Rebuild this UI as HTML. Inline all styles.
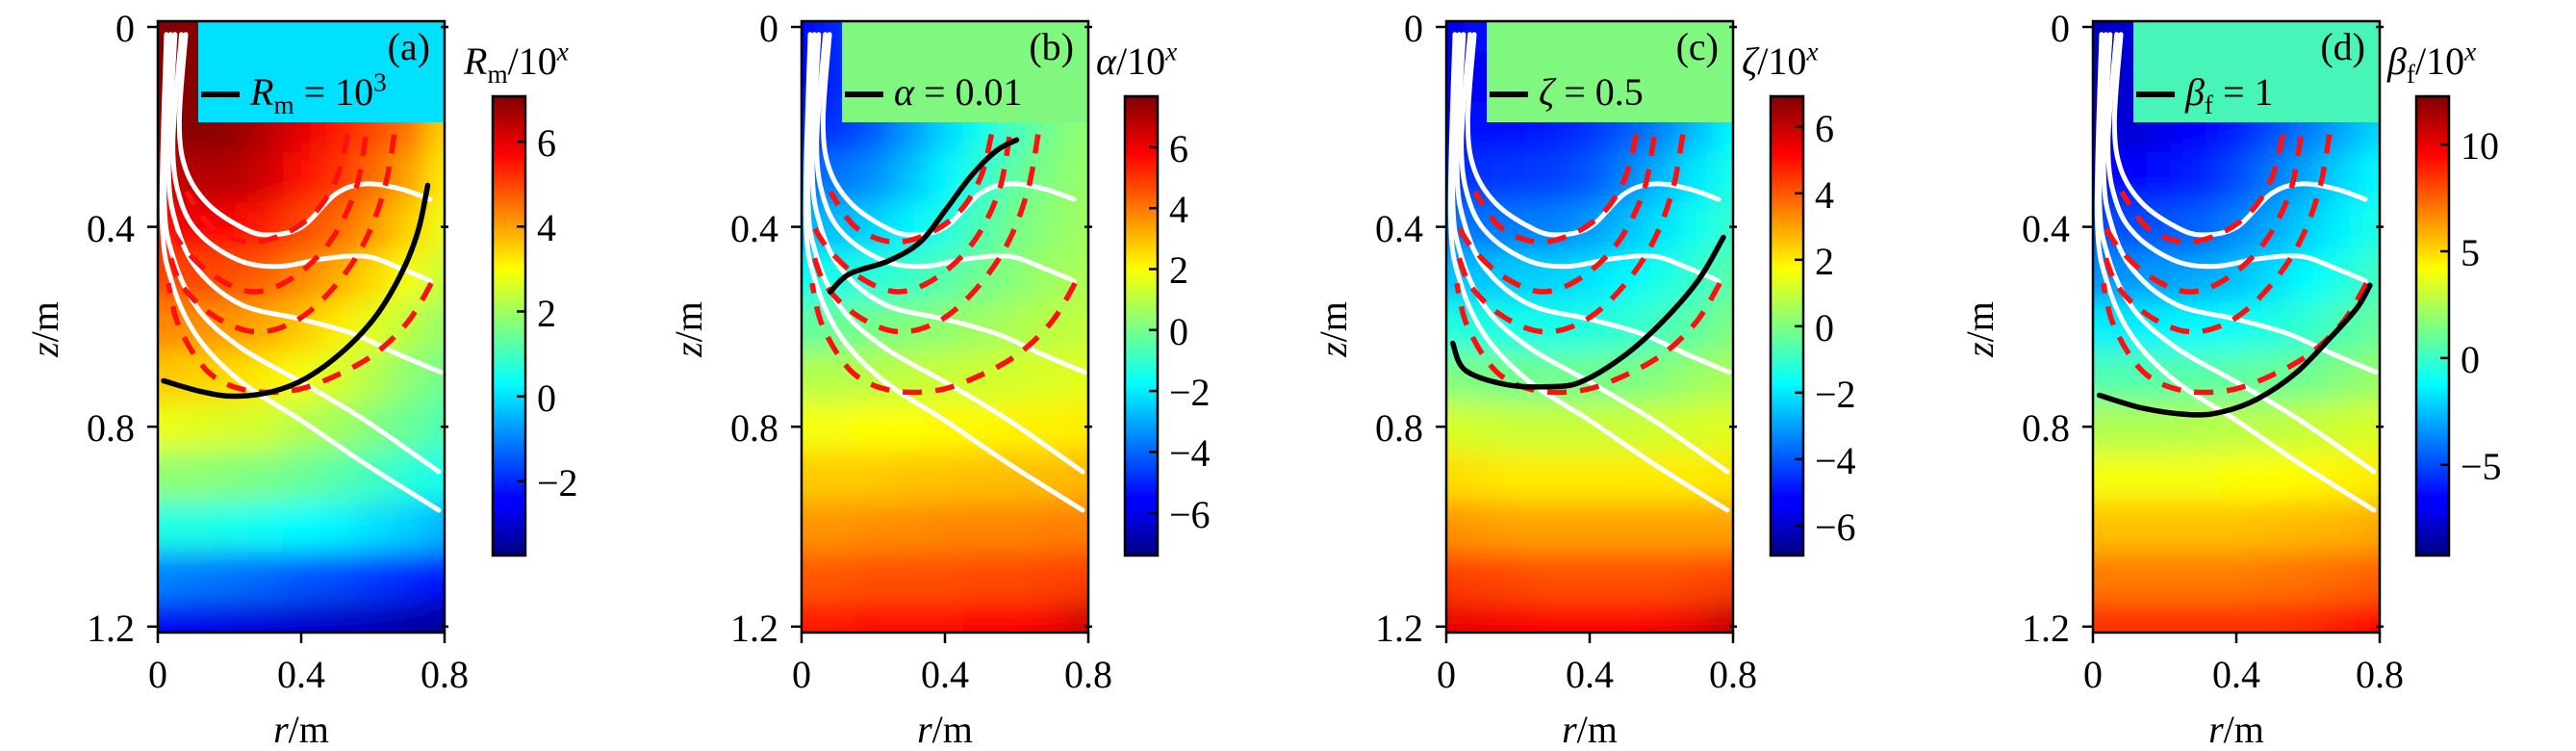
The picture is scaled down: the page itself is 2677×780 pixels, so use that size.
<!DOCTYPE html>
<html><head><meta charset="utf-8">
<style>
html,body{margin:0;padding:0;background:#fff;}
#wrap{position:relative;width:2677px;height:780px;overflow:hidden;background:#fff;font-family:"Liberation Serif",serif;color:#000;}
.t{position:absolute;white-space:nowrap;font-size:40px;line-height:1;}
.it{font-style:italic;}
sub,sup{font-size:68%;line-height:0;}
</style></head>
<body>
<div id="wrap">
<svg id="svg" width="2677" height="780" style="position:absolute;left:0;top:0"></svg>
</div>
<script>
// ---------- data ----------
const rTicks = [0, 0.4, 0.8];
const zTicks = [0, 0.4, 0.8, 1.2];
const rCenters = [0,0.1,0.2,0.3,0.4,0.5,0.6,0.7,0.8];
const zCenters = [0,0.1,0.2,0.3,0.4,0.5,0.6,0.7,0.8,0.9,1.0,1.1,1.2];

const gridA = [
[7,7,7,7,7,7,7,7,7],
[7,7,7,7,6.5,6,5.5,5,4.5],
[6.8,7,6.9,6.5,6,5.5,5,4.5,3.5],
[6.2,6.5,6.5,6.2,5.6,5.2,4.6,4,3.2],
[5.6,5.8,5.7,5.4,5,4.6,4.1,3.5,2.8],
[5,5,4.9,4.7,4.3,3.9,3.4,2.9,2.4],
[4.3,4.2,4.1,3.9,3.6,3.2,2.7,2.3,1.9],
[3.6,3.5,3.4,3.2,2.9,2.6,2.2,1.8,1.5],
[2.8,2.7,2.6,2.5,2.2,2,1.7,1.4,1.1],
[1.8,1.8,1.7,1.6,1.4,1.2,1.0,0.7,0.5],
[0.6,0.6,0.5,0.4,0.3,0.2,0,-0.2,-0.5],
[-1,-1.1,-1.2,-1.3,-1.5,-1.6,-1.8,-2,-2.3],
[-2.5,-2.6,-2.7,-2.8,-2.9,-3,-3.1,-3.3,-3.5]];
const gridB = [
[-5.5,-5,-4,-2,0,0,0,0,0],
[-5.5,-5,-4.2,-3,-2,-1.2,-0.5,0,0.3],
[-5,-4.8,-4.2,-3.3,-2.4,-1.5,-0.7,0,0.4],
[-4,-3.8,-3.4,-2.7,-1.9,-1.1,-0.3,0.2,0.5],
[-2.8,-2.7,-2.4,-1.9,-1.3,-0.6,0,0.4,0.6],
[-1.5,-1.4,-1.2,-0.9,-0.5,-0.1,0.3,0.6,0.8],
[-0.3,-0.2,0,0.2,0.4,0.6,0.8,1,1.1],
[0.9,0.9,1,1.1,1.2,1.3,1.4,1.5,1.6],
[1.9,1.9,2,2,2.1,2.1,2.2,2.2,2.3],
[2.8,2.8,2.8,2.9,2.9,3,3,3,3.1],
[3.6,3.6,3.7,3.7,3.8,3.8,3.8,3.9,3.9],
[4.5,4.5,4.6,4.6,4.6,4.7,4.7,4.8,4.9],
[5.5,5.5,5.6,5.6,5.6,5.7,5.8,6,6.5]];
const gridC = [
[-5.5,-5,-5,-4,-3,-2,-1,-0.5,0],
[-5.5,-5.3,-5.2,-5,-4.8,-4.4,-3.8,-3.2,-2.5],
[-5.2,-5,-5,-4.8,-4.5,-4,-3.4,-2.6,-1.8],
[-4.6,-4.5,-4.4,-4.3,-4,-3.4,-2.7,-2,-1.4],
[-3.6,-3.6,-3.5,-3.4,-3.1,-2.6,-2.1,-1.5,-1],
[-2.5,-2.5,-2.4,-2.3,-2.1,-1.8,-1.4,-1,-0.5],
[-1.3,-1.3,-1.4,-1.4,-1.3,-1.1,-0.8,-0.4,0],
[0,-0.1,-0.2,-0.2,-0.2,-0.1,0.1,0.4,0.6],
[1.2,1.1,1,1,1,1,1.1,1.2,1.3],
[2.2,2.1,2,2,2,2,2,2,2.1],
[3.2,3.1,3,3,3,3,3,3,3],
[4.4,4.3,4.2,4.1,4.1,4.1,4.1,4.2,4.3],
[5.5,5.4,5.3,5.2,5.2,5.2,5.3,5.5,6]];
const gridD = [
[-8,-7.5,-6,-5,-3,-2,-1,0,0],
[-8,-7.5,-7,-6.5,-6,-5.5,-5,-4,-3],
[-7.5,-7.5,-7,-6.5,-6,-5,-4,-3,-2],
[-6.5,-6.5,-6.2,-5.8,-5,-4,-3,-2,-1.2],
[-5,-5,-4.8,-4.5,-3.8,-3,-2.2,-1.4,-0.6],
[-3.5,-3.4,-3.3,-3,-2.5,-1.9,-1.2,-0.6,0.2],
[-1.5,-1.5,-1.4,-1.2,-1,-0.6,-0.1,0.5,1],
[0.5,0.5,0.6,0.7,0.8,1,1.2,1.6,2],
[2.5,2.5,2.5,2.6,2.7,2.8,3,3.2,3.4],
[4,4,4,4,4.1,4.2,4.3,4.4,4.6],
[5.5,5.5,5.5,5.5,5.5,5.6,5.7,5.8,6],
[7,7,7,7,7,7.1,7.2,7.4,7.6],
[8.5,8.5,8.5,8.5,8.5,8.6,8.8,9.2,9.6]];

const cbTicksA = [6,4,2,0,-2];
const cbTicksB = [6,4,2,0,-2,-4,-6];
const cbTicksC = [6,4,2,0,-2,-4,-6];
const cbTicksD = [10,5,0,-5];
const rangeA = [-3.75, 7.07];
const rangeB = [-7.4, 7.67];
const rangeC = [-6.9, 6.92];
const rangeD = [-9.25, 12.26];

const stream1 = [[.078,.015],[.06,.19],[.078,.285],[.138,.353],[.234,.401],[.305,.416],[.40,.401],[.497,.334],[.58,.314],[.677,.324],[.76,.345]];
const stream2 = [[.066,.015],[.042,.237],[.066,.353],[.126,.421],[.234,.469],[.341,.479],[.461,.464],[.58,.459],[.677,.483],[.76,.508]];
const stream3 = [[.048,.015],[.03,.285],[.054,.401],[.114,.488],[.234,.556],[.401,.585],[.545,.614],[.665,.653],[.79,.691]];
const stream4 = [[.036,.015],[.018,.334],[.042,.459],[.114,.566],[.234,.643],[.401,.711],[.58,.788],[.784,.89]];
const stream5 = [[.024,.015],[.012,.382],[.042,.517],[.114,.624],[.234,.711],[.401,.788],[.58,.875],[.784,.967]];

const dash1 = [[.53,.215],[.50,.30],[.44,.37],[.35,.415],[.25,.43],[.15,.40],[.08,.33]];
const dash2 = [[.58,.22],[.55,.33],[.48,.43],[.38,.50],[.27,.53],[.16,.50],[.07,.44],[.02,.38]];
const dash3 = [[.66,.215],[.63,.33],[.57,.44],[.48,.53],[.38,.59],[.27,.61],[.16,.58],[.07,.52],[.03,.45]];
const dash4 = [[.763,.513],[.70,.588],[.611,.651],[.505,.695],[.38,.727],[.247,.727],[.14,.69],[.06,.601],[.029,.513]];

const blackA = [[.016,.708],[.123,.730],[.212,.739],[.318,.730],[.416,.702],[.523,.645],[.611,.576],[.683,.488],[.727,.406],[.753,.317]];
const blackB = [[.08,.53],[.134,.494],[.24,.469],[.33,.431],[.40,.368],[.472,.299],[.543,.248],[.6,.226]];
const blackC = [[.018,.633],[.053,.687],[.169,.716],[.284,.72],[.373,.711],[.489,.662],[.596,.595],[.702,.508],[.773,.421]];
const blackD = [[.018,.737],[.139,.763],[.273,.776],[.362,.77],[.46,.744],[.567,.692],[.665,.62],[.737,.562],[.773,.517]];

// ---------- layout ----------
const panels = [
 {id:'a', left:164, cb:512, grid:gridA, ticks:cbTicksA, range:rangeA, black:blackA, box:'#00e1ff',
  title:'<span class="it">R</span><sub>m</sub>/10<sup class="it">x</sup>',
  leg:'<span class="it">R</span><sub>m</sub> = 10<sup>3</sup>'},
 {id:'b', left:833, cb:1169, grid:gridB, ticks:cbTicksB, range:rangeB, black:blackB, box:'#80f880',
  title:'<span class="it">α</span>/10<sup class="it">x</sup>', leg:'<span class="it">α</span> = 0.01'},
 {id:'c', left:1503, cb:1840, grid:gridC, ticks:cbTicksC, range:rangeC, black:blackC, box:'#80f880',
  title:'<span class="it">ζ</span>/10<sup class="it">x</sup>', leg:'<span class="it">ζ</span> = 0.5'},
 {id:'d', left:2175, cb:2511, grid:gridD, ticks:cbTicksD, range:rangeD, black:blackD, box:'#48f5b8',
  title:'<span class="it">β</span><sub>f</sub>/10<sup class="it">x</sup>', leg:'<span class="it">β</span><sub>f</sub> = 1'}
];
const PW = 298, PT = 22, PB = 657, Z0 = 28, ZS = 519;
const CBT = 100, CBB = 577, CBW = 34;
const NS = 'http://www.w3.org/2000/svg';
const svg = document.getElementById('svg');
const wrap = document.getElementById('wrap');

function jet(t){
  t = Math.max(0, Math.min(1, t));
  const c = v => Math.round(255*Math.max(0, Math.min(1, v)));
  return 'rgb('+c(1.5-Math.abs(4*t-3))+','+c(1.5-Math.abs(4*t-2))+','+c(1.5-Math.abs(4*t-1))+')';
}
function el(tag, attrs, parent){
  const e = document.createElementNS(NS, tag);
  for (const k in attrs) e.setAttribute(k, attrs[k]);
  (parent || svg).appendChild(e);
  return e;
}
function text(html, x, y, anchor, extra){
  const d = document.createElement('div');
  d.className = 't';
  d.innerHTML = html;
  d.style.left = x + 'px';
  d.style.top = y + 'px';
  const tx = anchor === 'middle' ? '-50%' : anchor === 'end' ? '-100%' : '0';
  d.style.transform = 'translate(' + tx + ',-50%)' + (extra || '');
  wrap.appendChild(d);
  return d;
}
function smooth(pts){
  let d = 'M' + pts[0][0] + ',' + pts[0][1];
  for (let i = 0; i < pts.length - 1; i++){
    const p0 = pts[Math.max(0,i-1)], p1 = pts[i], p2 = pts[i+1], p3 = pts[Math.min(pts.length-1,i+2)];
    const c1 = [p1[0]+(p2[0]-p0[0])/6, p1[1]+(p2[1]-p0[1])/6];
    const c2 = [p2[0]-(p3[0]-p1[0])/6, p2[1]-(p3[1]-p1[1])/6];
    d += 'C' + c1[0] + ',' + c1[1] + ' ' + c2[0] + ',' + c2[1] + ' ' + p2[0] + ',' + p2[1];
  }
  return d;
}

const defs = el('defs', {});
const blur = el('filter', {id:'blur', x:'0', y:'0', width:'1', height:'1'}, defs);
el('feGaussianBlur', {stdDeviation:'14', edgeMode:'duplicate'}, blur);
const cg = el('linearGradient', {id:'jetgrad', x1:'0', y1:'1', x2:'0', y2:'0'}, defs);
[[0,'#000080'],[0.11,'#0000ff'],[0.125,'#0000ff'],[0.375,'#00ffff'],[0.625,'#ffff00'],[0.875,'#ff0000'],[1,'#800000']].forEach(s=>{
  el('stop', {offset:s[0], 'stop-color':s[1]}, cg);
});

panels.forEach(p => {
  const X = r => p.left + r / 0.8 * PW;
  const Y = z => Z0 + z * ZS;
  const norm = v => (v - p.range[0]) / (p.range[1] - p.range[0]);
  const g = el('g', {});
  
  
  const clip = el('clipPath', {id:'clip' + p.id}, defs);
  el('rect', {x:p.left, y:PT, width:PW, height:PB-PT}, clip);
  const hm = el('g', {'clip-path':'url(#clip' + p.id + ')'}, g);
  
  
  const cells = el('g', {filter:'url(#blur)'}, hm);
  const cw = 0.1 / 0.8 * PW, ch = 0.1 * ZS;
  p.grid.forEach((row, i) => {
    row.forEach((v, j) => {
      const x0 = X(rCenters[j]) - cw/2, y0 = Y(zCenters[i]) - ch/2;
      const rc = el('rect', {x:x0-(j===0?40:0), y:y0-(i===0?40:0), width:cw+1+(j===0||j===row.length-1?40:0), height:ch+1+(i===0||i===p.grid.length-1?40:0), fill:jet(norm(v))}, cells);
      
      
    });
  });
  [stream1, stream2, stream3, stream4, stream5].forEach((s, k) => {
    const path = el('path', {d:smooth(s.map(q=>[X(q[0]),Y(q[1])])), fill:'none', stroke:'#fff', 'stroke-width':'5', 'stroke-linecap':'round'}, hm);
    
    
  });
  [dash1, dash2, dash3, dash4].forEach((s, k) => {
    const path = el('path', {d:smooth(s.map(q=>[X(q[0]),Y(q[1])])), fill:'none', stroke:'#ff1010', 'stroke-width':'5.5', 'stroke-dasharray':'20 14'}, hm);
    
    
  });
  const bl = el('path', {d:smooth(p.black.map(q=>[X(q[0]),Y(q[1])])), fill:'none', stroke:'#000', 'stroke-width':'5.5', 'stroke-linecap':'round'}, hm);
  
  
  const lb = el('rect', {x:p.left+42, y:PT, width:PW-42, height:105, fill:p.box}, g);
  
  
  const ll = el('line', {x1:p.left+45, x2:p.left+85, y1:98, y2:98, stroke:'#000', 'stroke-width':'6'}, g);
  
  
  const fr = el('rect', {x:p.left, y:PT, width:PW, height:PB-PT, fill:'none', stroke:'#000', 'stroke-width':'2.5'}, g);
  
  
  zTicks.forEach(z => {
    const tk = el('line', {x1:p.left-11, x2:p.left, y1:Y(z), y2:Y(z), stroke:'#000', 'stroke-width':'2.5'}, g);
    
    
    const tk2 = el('line', {x1:p.left+PW-4, x2:p.left+PW+4, y1:Y(z), y2:Y(z), stroke:'#000', 'stroke-width':'2.5'}, g);
    
    
    const lab = text(String(z), p.left - 24, Y(z) + 2, 'end');
    
    
  });
  rTicks.forEach(r => {
    const tk = el('line', {x1:X(r), x2:X(r), y1:PB, y2:PB+11, stroke:'#000', 'stroke-width':'2.5'}, g);
    
    
    const lab = text(String(r), X(r), 701, 'middle');
    
    
  });
  const xl = text('<span class="it">r</span>/m', p.left + PW/2, 758, 'middle');
  
  
  const yl = text('<span class="it">z</span>/m', p.left - 117, 342, 'middle', ' rotate(-90deg)');
  
  
  const pl = text('(' + p.id + ')', p.left + PW - 15, 49, 'end');
  
  
  const lg = text(p.leg, p.left + 96, 96, 'start');
  
  
  const cb = el('rect', {x:p.cb, y:CBT, width:CBW, height:CBB-CBT, fill:'url(#jetgrad)', stroke:'#000', 'stroke-width':'2.5'}, g);
  
  
  const CY = v => CBB - (v - p.range[0]) / (p.range[1] - p.range[0]) * (CBB - CBT);
  p.ticks.forEach(v => {
    const tk = el('line', {x1:p.cb+CBW-9, x2:p.cb+CBW, y1:CY(v), y2:CY(v), stroke:'#000', 'stroke-width':'2.5'}, g);
    
    
    const lab = text(v < 0 ? '−' + Math.abs(v) : String(v), p.cb + CBW + 12, CY(v) + 2, 'start');
    
    
  });
  const ct = text(p.title, p.cb - 30, 64, 'start');
  
  
});
</script>
</body></html>
